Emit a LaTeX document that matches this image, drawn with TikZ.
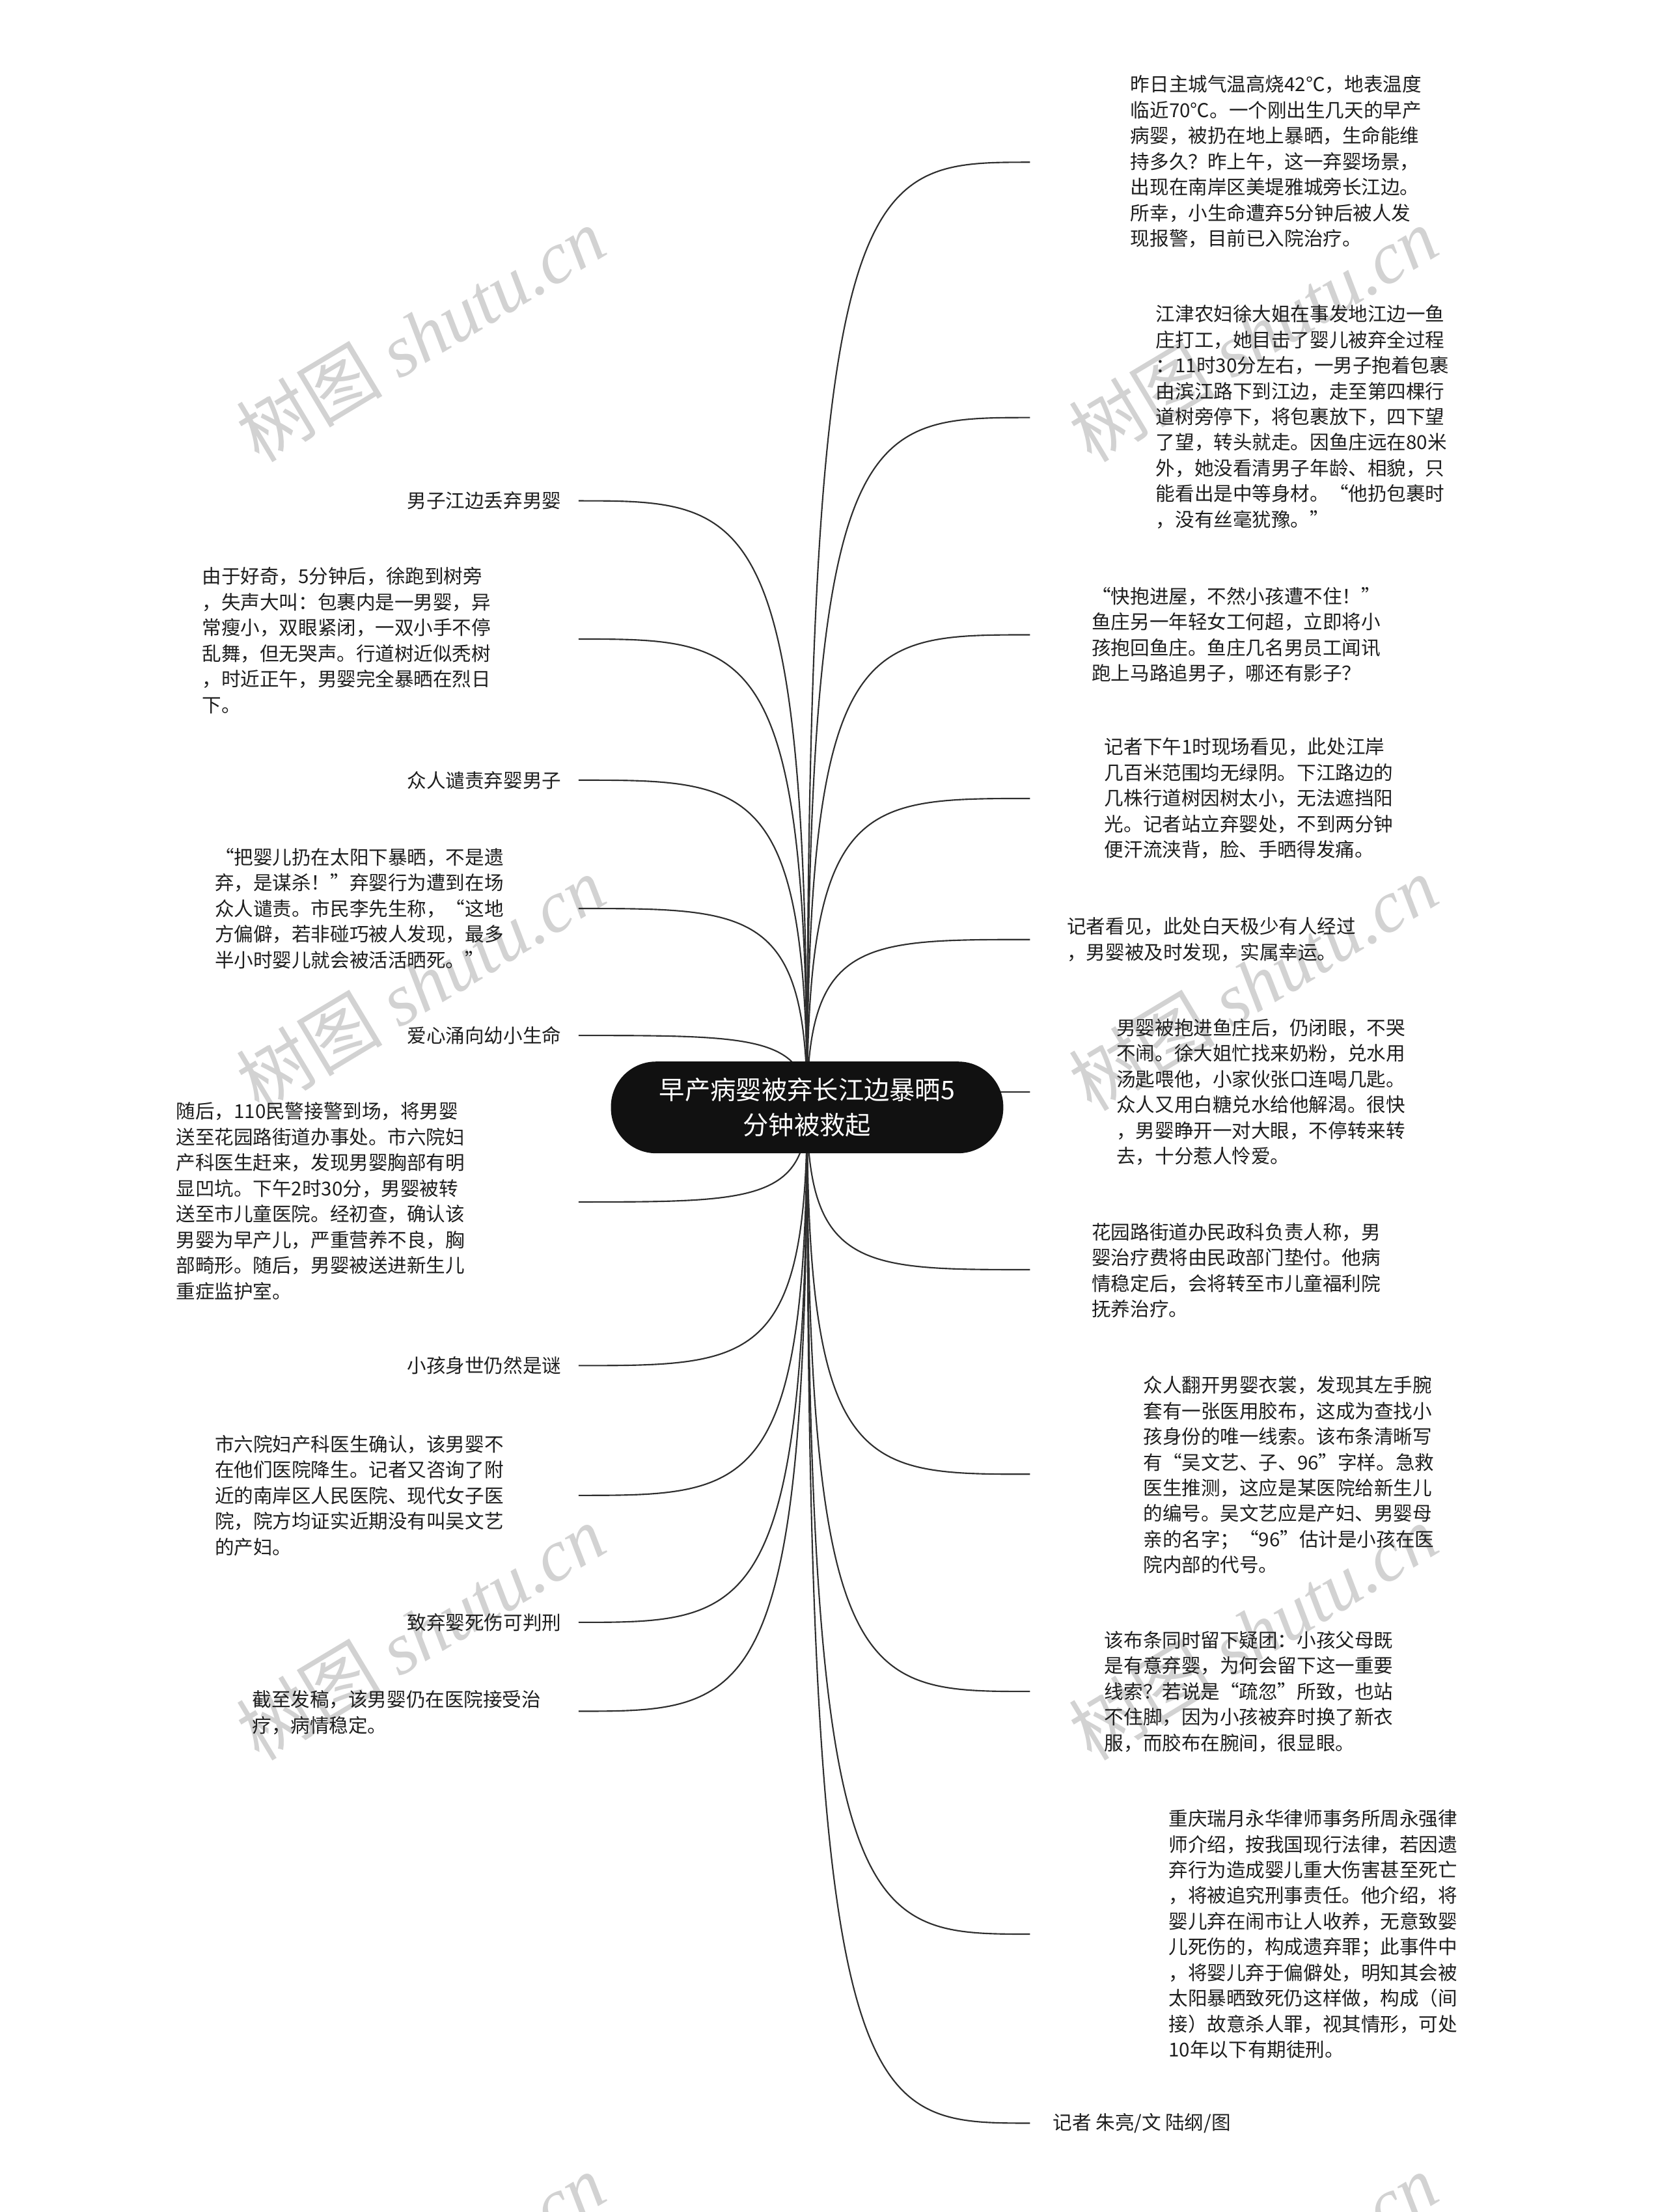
\documentclass[tikz,border=0pt]{standalone}
\usepackage{fontspec}
\setmainfont{Noto Sans CJK SC}
\newfontfamily\wmsong{Noto Sans CJK SC}
\newfontfamily\wmroman{Liberation Serif}
\usepackage{xcolor}
\usetikzlibrary{calc,positioning}

\definecolor{inkc}{HTML}{1E1E1E}
\definecolor{linec}{HTML}{2E2E2E}
\definecolor{rootc}{HTML}{111111}
\definecolor{markc}{HTML}{D2D2D2}

\pgfdeclarelayer{wm}
\pgfdeclarelayer{bg}
\pgfsetlayers{wm,bg,main}

\begin{document}
\begin{tikzpicture}[
    x=0.025cm, y=-0.025cm,
    topic/.style={fill=rootc, text=white, rounded corners=0.8cm, minimum width=6.95cm, minimum height=1.625cm, align=center, inner sep=0pt, font=\fontsize{12.9}{17.8}\selectfont},
    leaf/.style={anchor=west, align=left, inner sep=0pt, text=inkc, font=\fontsize{9.7}{12.95}\selectfont},
    tag/.style={anchor=east, inner sep=0pt, text=inkc, font=\fontsize{9.7}{12.95}\selectfont},
    branch/.style={draw=linec, line width=0.7pt},
    wmark/.style={rotate=31, inner sep=0pt, text=markc, font=\fontsize{37}{37}\selectfont}
  ]
    \path[use as bounding box] (0,0) rectangle (1181,1568);

    % watermark
    \begin{pgfonlayer}{wm}
      \fill[white] (0,0) rectangle (1181,1568);
      \clip (0,0) rectangle (1181,1568);
      \foreach \wx in {298,888}
        \foreach \wy in {237,697,1157,1617}
          \node[wmark] (wm-\wx-\wy) at (\wx,\wy) {{\wmsong 树图} {\wmroman\itshape shutu.cn}};
    \end{pgfonlayer}

    \node[topic] (root) at (572,785) {早产病婴被弃长江边暴晒5\\分钟被救起};

    % right side
    \node[leaf] (heat) at (801,114.5) {昨日主城气温高烧42℃，地表温度\\临近70℃。一个刚出生几天的早产\\病婴，被扔在地上暴晒，生命能维\\持多久？昨上午，这一弃婴场景，\\出现在南岸区美堤雅城旁长江边。\\所幸，小生命遭弃5分钟后被人发\\现报警，目前已入院治疗。};
    \node[leaf] (witness) at (819,295.5) {江津农妇徐大姐在事发地江边一鱼\\庄打工，她目击了婴儿被弃全过程\\：11时30分左右，一男子抱着包裹\\由滨江路下到江边，走至第四棵行\\道树旁停下，将包裹放下，四下望\\了望，转头就走。因鱼庄远在80米\\外，她没看清男子年龄、相貌，只\\能看出是中等身材。“他扔包裹时\\，没有丝毫犹豫。”};
    \node[leaf] (rescue) at (773.5,450) {“快抱进屋，不然小孩遭不住！”\\鱼庄另一年轻女工何超，立即将小\\孩抱回鱼庄。鱼庄几名男员工闻讯\\跑上马路追男子，哪还有影子？};
    \node[leaf] (noshade) at (782.5,566) {记者下午1时现场看见，此处江岸\\几百米范围均无绿阴。下江路边的\\几株行道树因树太小，无法遮挡阳\\光。记者站立弃婴处，不到两分钟\\便汗流浃背，脸、手晒得发痛。};
    \node[leaf] (lucky) at (756,666) {记者看见，此处白天极少有人经过\\，男婴被及时发现，实属幸运。};
    \node[leaf] (feed) at (791,774) {男婴被抱进鱼庄后，仍闭眼，不哭\\不闹。徐大姐忙找来奶粉，兑水用\\汤匙喂他，小家伙张口连喝几匙。\\众人又用白糖兑水给他解渴。很快\\，男婴睁开一对大眼，不停转来转\\去，十分惹人怜爱。};
    \node[leaf] (welfare) at (773.5,900.5) {花园路街道办民政科负责人称，男\\婴治疗费将由民政部门垫付。他病\\情稳定后，会将转至市儿童福利院\\抚养治疗。};
    \node[leaf] (label) at (810,1045.5) {众人翻开男婴衣裳，发现其左手腕\\套有一张医用胶布，这成为查找小\\孩身份的唯一线索。该布条清晰写\\有“吴文艺、子、96”字样。急救\\医生推测，这应是某医院给新生儿\\的编号。吴文艺应是产妇、男婴母\\亲的名字；“96”估计是小孩在医\\院内部的代号。};
    \node[leaf] (doubt) at (782.5,1199) {该布条同时留下疑团：小孩父母既\\是有意弃婴，为何会留下这一重要\\线索？若说是“疏忽”所致，也站\\不住脚，因为小孩被弃时换了新衣\\服，而胶布在腕间，很显眼。};
    \node[leaf] (lawyer) at (828,1371) {重庆瑞月永华律师事务所周永强律\\师介绍，按我国现行法律，若因遗\\弃行为造成婴儿重大伤害甚至死亡\\，将被追究刑事责任。他介绍，将\\婴儿弃在闹市让人收养，无意致婴\\儿死伤的，构成遗弃罪；此事件中\\，将婴儿弃于偏僻处，明知其会被\\太阳暴晒致死仍这样做，构成（间\\接）故意杀人罪，视其情形，可处\\10年以下有期徒刑。};
    \node[leaf] (byline) at (746,1505) {记者 朱亮/文 陆纲/图};

    % left side
    \node[tag] (abandon) at (398,355) {男子江边丢弃男婴};
    \node[leaf] (found) at (143,454) {由于好奇，5分钟后，徐跑到树旁\\，失声大叫：包裹内是一男婴，异\\常瘦小，双眼紧闭，一双小手不停\\乱舞，但无哭声。行道树近似秃树\\，时近正午，男婴完全暴晒在烈日\\下。};
    \node[tag] (blame) at (398,553) {众人谴责弃婴男子};
    \node[leaf] (quote) at (152,644) {“把婴儿扔在太阳下暴晒，不是遗\\弃，是谋杀！”弃婴行为遭到在场\\众人谴责。市民李先生称，“这地\\方偏僻，若非碰巧被人发现，最多\\半小时婴儿就会被活活晒死。”};
    \node[tag] (love) at (398,734) {爱心涌向幼小生命};
    \node[leaf] (hospital) at (124.5,851.5) {随后，110民警接警到场，将男婴\\送至花园路街道办事处。市六院妇\\产科医生赶来，发现男婴胸部有明\\显凹坑。下午2时30分，男婴被转\\送至市儿童医院。经初查，确认该\\男婴为早产儿，严重营养不良，胸\\部畸形。随后，男婴被送进新生儿\\重症监护室。};
    \node[tag] (mystery) at (398,968) {小孩身世仍然是谜};
    \node[leaf] (confirm) at (152,1060) {市六院妇产科医生确认，该男婴不\\在他们医院降生。记者又咨询了附\\近的南岸区人民医院、现代女子医\\院，院方均证实近期没有叫吴文艺\\的产妇。};
    \node[tag] (penalty) at (398,1150) {致弃婴死伤可判刑};
    \node[leaf] (stable) at (178.5,1214) {截至发稿，该男婴仍在医院接受治\\疗，病情稳定。};

    % branch ends
    \coordinate (heat-e) at (730,115);
    \coordinate (witness-e) at (730,296);
    \coordinate (rescue-e) at (730,450);
    \coordinate (noshade-e) at (730,566);
    \coordinate (lucky-e) at (730,666);
    \coordinate (feed-e) at (730,774);
    \coordinate (welfare-e) at (730,900);
    \coordinate (label-e) at (730,1045);
    \coordinate (doubt-e) at (730,1199);
    \coordinate (lawyer-e) at (730,1371);
    \coordinate (byline-e) at (730,1505);
    \coordinate (abandon-e) at (410,355);
    \coordinate (found-e) at (410,453);
    \coordinate (blame-e) at (410,553);
    \coordinate (quote-e) at (410,644);
    \coordinate (love-e) at (410,734);
    \coordinate (hospital-e) at (410,852);
    \coordinate (mystery-e) at (410,968);
    \coordinate (confirm-e) at (410,1060);
    \coordinate (penalty-e) at (410,1150);
    \coordinate (stable-e) at (410,1213);

    \begin{pgfonlayer}{bg}
      \foreach \n in {heat,witness,rescue,noshade,lucky,feed,welfare,label,doubt,lawyer,byline,abandon,found,blame,quote,love,hospital,mystery,confirm,penalty,stable}
        \draw[branch] (root.center) .. controls (root.center |- \n-e) and ($(root.center |- \n-e)!0.25!(\n-e)$) .. (\n-e);
    \end{pgfonlayer}
\end{tikzpicture}
\end{document}
